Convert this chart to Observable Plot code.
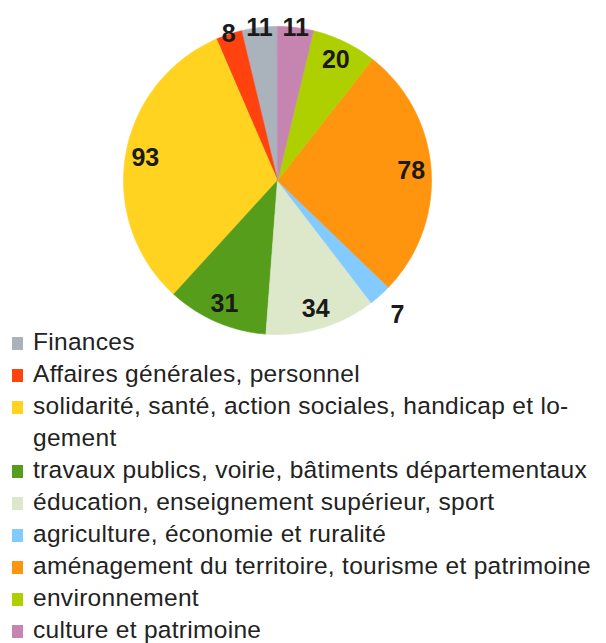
<!DOCTYPE html>
<html>
<head>
<meta charset="utf-8">
<script src="https://cdn.jsdelivr.net/npm/d3@7"></script>
<script src="https://cdn.jsdelivr.net/npm/@observablehq/plot@0.6"></script>
<style>
  html, body { margin: 0; padding: 0; background: #fff; }
  #chart { width: 606px; font-family: "Liberation Sans", Arial, sans-serif; }
  .legend { margin-top: -14px; padding-left: 12px; font-size: 24.5px; line-height: 32px; letter-spacing: 0.3px; color: #222; }
  .item { display: flex; align-items: flex-start; }
  .sw { flex: none; width: 11px; height: 13px; margin-top: 11px; margin-right: 10px; }
  .lab { white-space: pre-line; }
</style>
</head>
<body>
<div id="chart"></div>
<script>
// Categories in legend order (pie drawn counter-clockwise from 12 o'clock)
const categories = [
  "Finances",
  "Affaires générales, personnel",
  "solidarité, santé, action sociales, handicap et logement",
  "travaux publics, voirie, bâtiments départementaux",
  "éducation, enseignement supérieur, sport",
  "agriculture, économie et ruralité",
  "aménagement du territoire, tourisme et patrimoine",
  "environnement",
  "culture et patrimoine"
];
const legendLabels = [
  "Finances",
  "Affaires générales, personnel",
  "solidarité, santé, action sociales, handicap et lo-\ngement",
  "travaux publics, voirie, bâtiments départementaux",
  "éducation, enseignement supérieur, sport",
  "agriculture, économie et ruralité",
  "aménagement du territoire, tourisme et patrimoine",
  "environnement",
  "culture et patrimoine"
];
const values = [11, 8, 93, 31, 34, 7, 78, 20, 11];
const colors = ["#aab2bc", "#ff420e", "#ffd320", "#579d1c", "#dde8cb", "#83caff", "#ff950e", "#aecf00", "#c585b0"];

const data = categories.map((c, i) => ({cat: c, value: values[i]}));

// Pie layout: counter-clockwise starting at top
const arcs = d3.pie().sort(null).value(d => d.value).startAngle(0).endAngle(-2 * Math.PI)(data);

// Polygon vertices for each slice in unit (data) coordinates
const pts = [];
for (const a of arcs) {
  pts.push({cat: a.data.cat, x: 0, y: 0});
  const n = Math.max(4, Math.ceil(Math.abs(a.endAngle - a.startAngle) / 0.02));
  for (let k = 0; k <= n; k++) {
    const t = a.startAngle + (a.endAngle - a.startAngle) * k / n;
    pts.push({cat: a.data.cat, x: Math.sin(t), y: Math.cos(t)});
  }
}

// Label positions: inside for large slices, on the rim for small, outside for the smallest
const labels = arcs.map(a => {
  const m = (a.startAngle + a.endAngle) / 2;
  const v = a.data.value;
  const r = v >= 20 ? 0.87 : v >= 8 ? 1.0 : 1.17;
  return {x: r * Math.sin(m), y: r * Math.cos(m), text: String(v)};
});

const cx = 277, cy = 180, R = 154;
const plot = Plot.plot({
  width: 606,
  height: 340,
  margin: 0,
  x: {domain: [-1, 1], range: [cx - R, cx + R], axis: null},
  y: {domain: [-1, 1], range: [cy + R, cy - R], axis: null},
  color: {domain: categories, range: colors},
  marks: [
    Plot.line(pts, {x: "x", y: "y", z: "cat", fill: "cat", stroke: "cat", strokeWidth: 0.6, curve: "linear-closed"}),
    Plot.text(labels, {x: "x", y: "y", text: "text", fontSize: 25, fontWeight: "bold", fill: "#1a1a1a", fontFamily: "Liberation Sans, Arial, sans-serif"})
  ]
});
const chart = document.getElementById("chart");
chart.appendChild(plot);

const legend = document.createElement("div");
legend.className = "legend";
categories.forEach((c, i) => {
  const item = document.createElement("div");
  item.className = "item";
  const sw = document.createElement("span");
  sw.className = "sw";
  sw.style.background = colors[i];
  const lab = document.createElement("span");
  lab.className = "lab";
  lab.textContent = legendLabels[i];
  item.appendChild(sw);
  item.appendChild(lab);
  legend.appendChild(item);
});
chart.appendChild(legend);
</script>
</body>
</html>
